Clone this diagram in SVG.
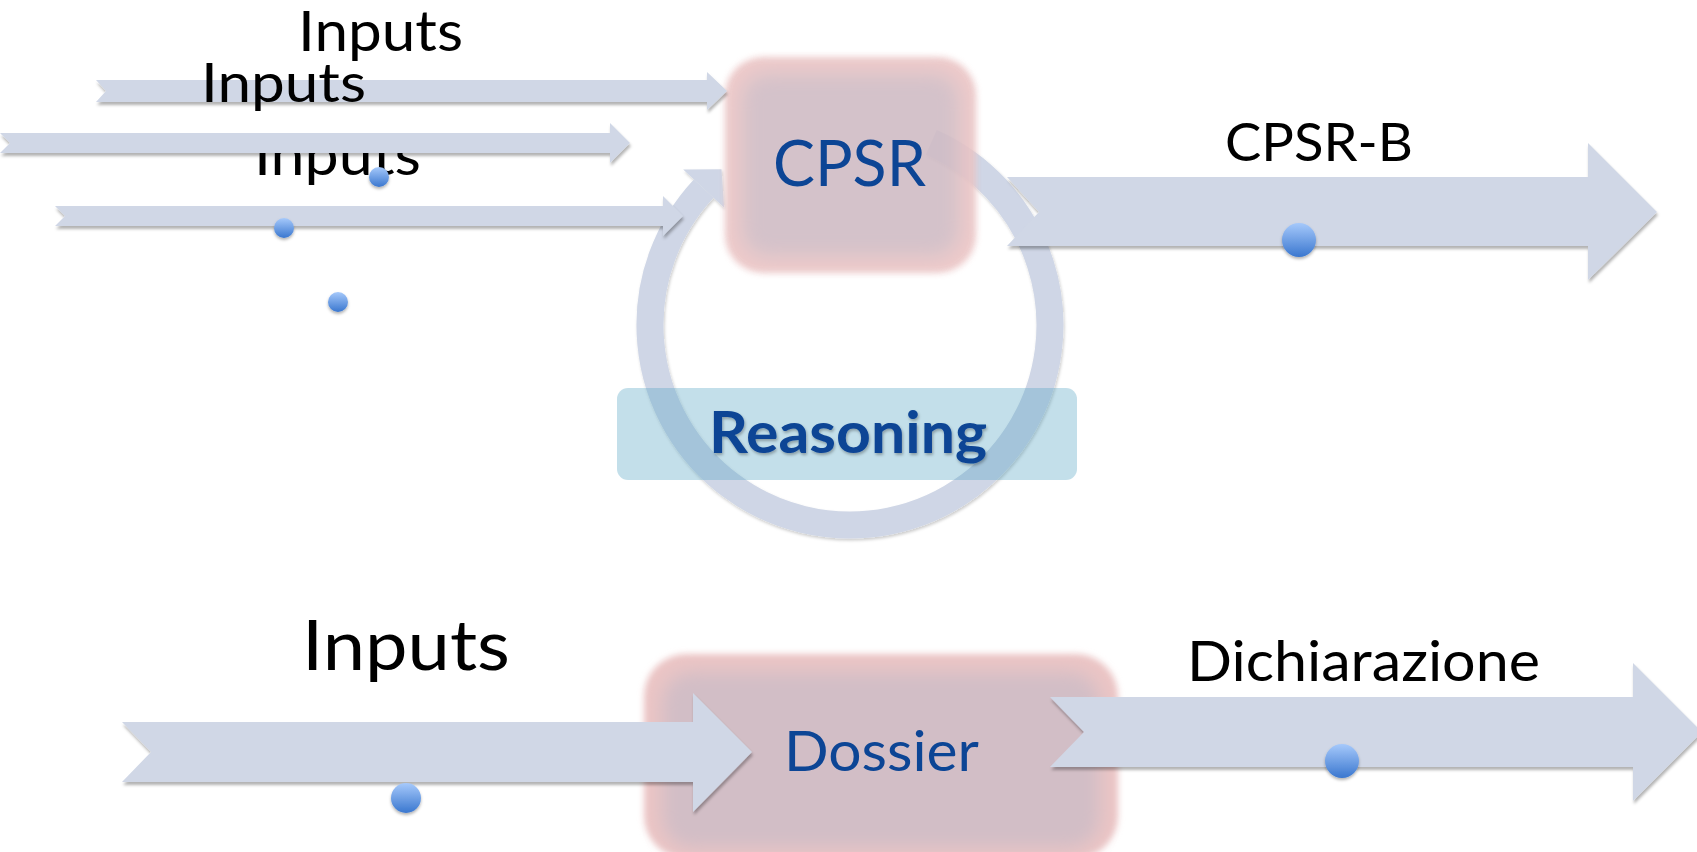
<svg xmlns="http://www.w3.org/2000/svg" width="1697" height="852" viewBox="0 0 1697 852">
  <defs>
    <style>
      .lbl { font-family: Lato, "Open Sans", "Liberation Sans", sans-serif; fill: #000000; }
      .blue { fill: #0c4595; }
      .arrow { fill: #d0d7e6; filter: url(#shadow); }
      .dot { fill: url(#dotFill); filter: url(#dotShadow); }
    </style>
    <filter id="shadow" x="-5%" y="-30%" width="110%" height="170%">
      <feDropShadow dx="1" dy="3" stdDeviation="1.5" flood-color="#000000" flood-opacity="0.3"/>
    </filter>
    <filter id="ringShadow" x="-10%" y="-10%" width="120%" height="120%">
      <feDropShadow dx="1" dy="2" stdDeviation="1.5" flood-color="#000000" flood-opacity="0.2"/>
    </filter>
    <filter id="textShadow" x="-5%" y="-20%" width="110%" height="150%">
      <feDropShadow dx="1" dy="2" stdDeviation="1.5" flood-color="#000000" flood-opacity="0.3"/>
    </filter>
    <filter id="dotShadow" x="-50%" y="-50%" width="200%" height="220%">
      <feDropShadow dx="0" dy="2" stdDeviation="1.5" flood-color="#000000" flood-opacity="0.3"/>
    </filter>
    <filter id="edgeBlur" x="-20%" y="-20%" width="140%" height="140%">
      <feGaussianBlur stdDeviation="3"/>
    </filter>
    <filter id="coreBlur" x="-30%" y="-30%" width="160%" height="160%">
      <feGaussianBlur stdDeviation="9"/>
    </filter>
    <linearGradient id="dotFill" x1="0" y1="0" x2="0" y2="1">
      <stop offset="0" stop-color="#a6c9fb"/>
      <stop offset="1" stop-color="#3a77cf"/>
    </linearGradient>
  </defs>

  <!-- circular reasoning loop (behind the boxes) -->
  <g id="loop" filter="url(#ringShadow)">
    <path d="M931.3,142.3 A200,200 0 1 1 703.7,188.6" fill="none" stroke="#cfd6e6" stroke-width="27"/>
    <polygon points="683.2,169.5 721.5,169.3 724.2,207.7" fill="#cfd6e6"/>
  </g>

  <!-- CPSR box -->
  <g id="cpsr" opacity="0.9">
    <rect x="725" y="57" width="251" height="216" rx="38" fill="#ebc5c5" filter="url(#edgeBlur)"/>
    <rect x="742" y="74" width="217" height="182" rx="26" fill="#d0bcc5" filter="url(#coreBlur)"/>
  </g>

  <!-- Reasoning label box -->
  <g id="reasoning">
    <rect x="617" y="388" width="460" height="92" rx="11" fill="#53a3c2" fill-opacity="0.35"/>
  </g>

  <!-- Dossier box -->
  <g id="dossier">
    <rect x="644" y="654" width="474" height="204" rx="42" fill="#ebc5c5" filter="url(#edgeBlur)"/>
    <rect x="662" y="672" width="438" height="176" rx="30" fill="#d2bec6" filter="url(#coreBlur)"/>
  </g>

  <!-- label partly covered by the middle input arrow -->
  <text id="inputs-3" class="lbl" x="254" y="175" font-size="56" textLength="167" lengthAdjust="spacingAndGlyphs">Inputs</text>

  <!-- connectors -->
  <g id="connectors">
    <polygon class="arrow" points="96,80 707,80 707,72 727,91 707,110 707,102 96,102 106,91"/>
    <polygon class="arrow" points="0,133 610,133 610,123 630,143 610,163 610,153 0,153 10,143"/>
    <polygon class="arrow" points="55,206 663,206 663,196 683,216 663,236 663,226 55,226 65,216"/>
    <polygon class="arrow" points="1007,177 1588,177 1588,143 1657,212 1588,280 1588,246 1007,246 1039,212"/>
    <polygon class="arrow" points="122,722 693,722 693,693 752,752 693,812 693,782 122,782 151,752"/>
    <polygon class="arrow" points="1050,697 1633,697 1633,663 1702,732 1633,801 1633,767 1050,767 1084,732"/>
  </g>

  <!-- labels -->
  <text id="inputs-1" class="lbl" x="298" y="51" font-size="56" textLength="165" lengthAdjust="spacingAndGlyphs">Inputs</text>
  <text id="inputs-2" class="lbl" x="201" y="102" font-size="55" textLength="165" lengthAdjust="spacingAndGlyphs">Inputs</text>
  <text id="cpsr-label" class="lbl blue" x="773" y="186" font-size="64" textLength="153" lengthAdjust="spacingAndGlyphs">CPSR</text>
  <text id="cpsr-b" class="lbl" x="1225" y="161" font-size="53" textLength="188" lengthAdjust="spacingAndGlyphs">CPSR-B</text>
  <text id="reasoning-label" class="lbl blue" x="709" y="453" font-size="57" font-weight="bold" textLength="278" lengthAdjust="spacingAndGlyphs" filter="url(#textShadow)">Reasoning</text>
  <text id="inputs-4" class="lbl" x="302" y="670" font-size="70" textLength="208" lengthAdjust="spacingAndGlyphs">Inputs</text>
  <text id="dossier-label" class="lbl blue" x="784" y="771" font-size="56" textLength="195" lengthAdjust="spacingAndGlyphs">Dossier</text>
  <text id="dichiarazione" class="lbl" x="1187" y="681" font-size="56" textLength="353" lengthAdjust="spacingAndGlyphs">Dichiarazione</text>

  <!-- bullet points -->
  <g id="bullets">
    <circle class="dot" cx="379" cy="177" r="10"/>
    <circle class="dot" cx="284" cy="228" r="10"/>
    <circle class="dot" cx="338" cy="302" r="10"/>
    <circle class="dot" cx="1299" cy="240" r="17"/>
    <circle class="dot" cx="406" cy="798" r="15"/>
    <circle class="dot" cx="1342" cy="761" r="17"/>
  </g>
</svg>
